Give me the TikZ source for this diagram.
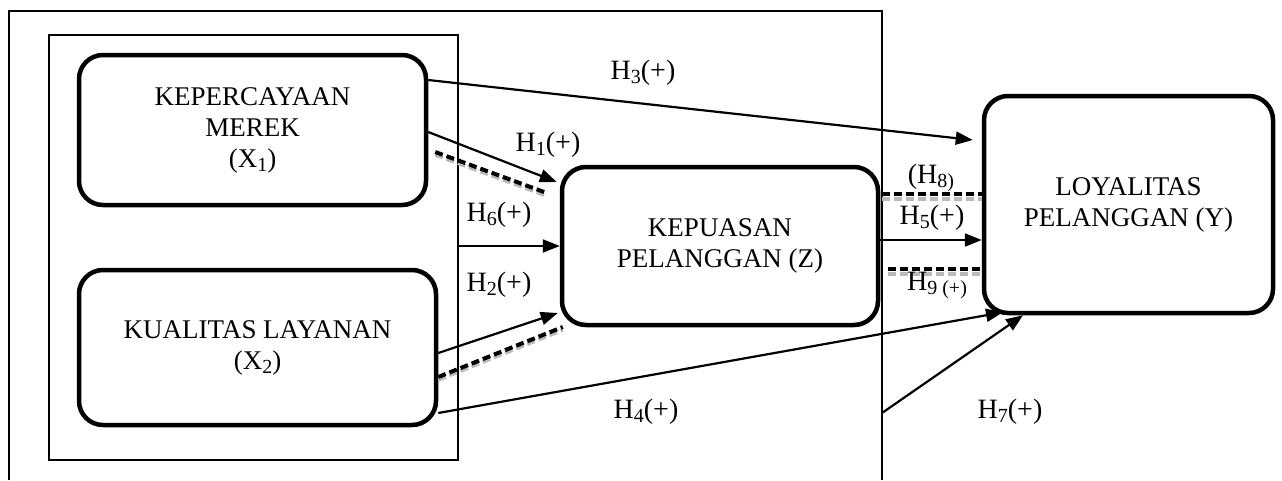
\documentclass[tikz,border=0pt]{standalone}
\usepackage{fontspec}
\setmainfont{Liberation Serif}
\usetikzlibrary{arrows.meta}
\newcommand\sbs[1]{\raisebox{-4pt}{\fontsize{20}{20}\selectfont #1}}
\begin{document}
\begin{tikzpicture}[x=1pt,y=-1pt,
  varbox/.style={draw,line width=4.5pt,rounded corners=24pt,align=center,
    font=\fontsize{27}{31}\selectfont,inner sep=0pt},
  lbl/.style={font=\fontsize{28}{31}\selectfont,inner sep=0pt},
  arr/.style={line width=2.2pt,-{Triangle[length=17pt,width=13pt]}},
  dsh/.style={line width=4pt,dash pattern=on 8pt off 4pt},
  shd/.style={line width=3.5pt,gray!55,dash pattern=on 8pt off 4pt},
  frame/.style={line width=1.6pt}]
\useasboundingbox (0,0) rectangle (1282,480);
% outer frame
\draw[frame] (9,480) -- (9,11) -- (882,11) -- (882,480);
% inner frame
\node[draw,frame,minimum width=409pt,minimum height=425pt,inner sep=0pt] (inner) at (253.5,247.5) {};
% boxes
\node[varbox,minimum width=347pt,minimum height=150pt] (X1) at (252.5,130)
  {KEPERCAYAAN\\MEREK\\(X\sbs{1})};
\node[varbox,minimum width=357pt,minimum height=155pt] (X2) at (257.5,347.5)
  {KUALITAS LAYANAN\\(X\sbs{2})};
\node[varbox,minimum width=316pt,minimum height=158pt] (Z) at (720,246)
  {KEPUASAN\\PELANGGAN (Z)};
\node[varbox,minimum width=289pt,minimum height=217pt] (Y) at (1128.5,204.5)
  {LOYALITAS\\PELANGGAN (Y)};
\coordinate (h7s) at (882,413);
% dashed shadows
\draw[shd] ([xshift=7pt,yshift=-25pt]X1.east) -- ([xshift=-13pt,yshift=50pt]Z.west);
\draw[shd] ([yshift=-32.5pt]X2.east) -- ([xshift=3pt,yshift=-84pt]Z.west);
\draw[shd] ([xshift=2pt,yshift=47pt]Z.east) -- ([yshift=5.5pt]Y.west);
\draw[shd] ([xshift=8pt,yshift=-28pt]Z.east) -- ([yshift=-69.5pt]Y.west);
% dashed lines
\draw[dsh] ([xshift=7pt,yshift=-22pt]X1.east) -- ([xshift=-13pt,yshift=53pt]Z.west);
\draw[dsh] ([yshift=-29.5pt]X2.east) -- ([xshift=3pt,yshift=-81pt]Z.west);
\draw[dsh] ([xshift=2pt,yshift=52pt]Z.east) -- ([yshift=10.5pt]Y.west);
\draw[dsh] ([xshift=8pt,yshift=-23pt]Z.east) -- ([yshift=-64.5pt]Y.west);
% arrows
\draw[arr] ([yshift=50pt]X1.east) -- ([xshift=-9pt,yshift=64.5pt]Y.west);
\draw[arr] ([yshift=-2pt]X1.east) -- ([xshift=-3pt,yshift=64pt]Z.west);
\draw[arr] (inner.east |- Z.west) -- (Z.west);
\draw[arr] ([yshift=-5.5pt]X2.east) -- ([xshift=-2pt,yshift=-67pt]Z.west);
\draw[arr] ([yshift=-65.5pt]X2.east) -- ([xshift=-125.5pt,yshift=3pt]Y.south);
\draw[arr] (h7s) -- ([xshift=-105.5pt]Y.south);
\draw[arr] ([yshift=6pt]Z.east) -- ([yshift=6pt]Z.east -| Y.west);
% labels
\node[lbl] (l3) at (643,73) {H\sbs{3}(+)};
\node[lbl] (l1) at (548,145) {H\sbs{1}(+)};
\node[lbl] (l6) at (499,215) {H\sbs{6}(+)};
\node[lbl] (l2) at (499,285) {H\sbs{2}(+)};
\node[lbl] (l8) at (931,178) {(H\sbs{8)}};
\node[lbl] (l5) at (932,218) {H\sbs{5}(+)};
\node[lbl] (l9) at (937,285) {H\sbs{9 (+)}};
\node[lbl] (l4) at (646,412) {H\sbs{4}(+)};
\node[lbl] (l7) at (1010,412) {H\sbs{7}(+)};
\end{tikzpicture}
\end{document}
